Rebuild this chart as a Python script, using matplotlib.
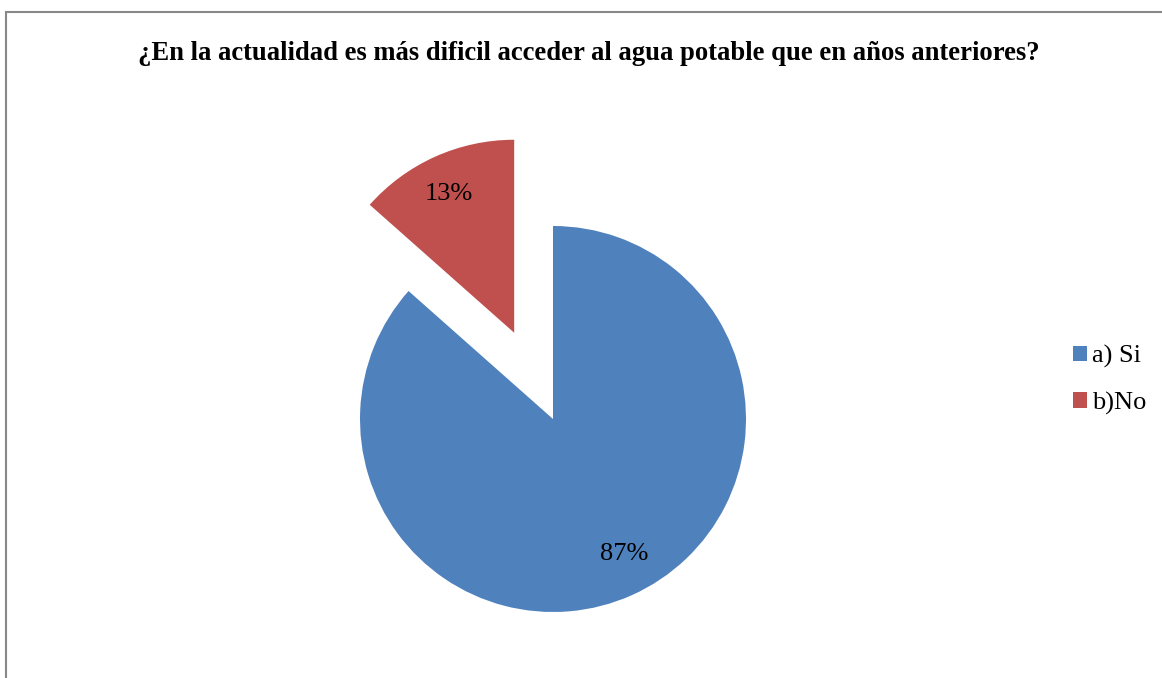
import matplotlib.pyplot as plt
import matplotlib.transforms as mtransforms
from matplotlib.patches import Rectangle

# datos (respuestas de la encuesta)
etiquetas = ['a) Si', 'b)No']
valores = [45, 7]
colores = ['#4F81BD', '#C0504D']
separacion = [0, 0.49]

titulo = '¿En la actualidad es más dificil acceder al agua potable que en años anteriores?'

plt.rcParams['font.family'] = ['Liberation Serif', 'DejaVu Serif']

W, H = 1162, 678
fig = plt.figure(figsize=(W / 100, H / 100), dpi=100)

# marco del gráfico
fig.patches.append(Rectangle((6 / W, -0.1), 1.2, 1 - 12 / H + 0.1, transform=fig.transFigure,
                             fill=False, edgecolor='#888888', linewidth=1.5))

fig.text(589 / W, 1 - 53 / H, titulo, ha='center', va='center', fontsize=19.2, fontweight='bold')

# ejes del pastel: centro (553, 419), radio 193 px
cx, cy, r, half = 553, 419, 193, 300
ax = fig.add_axes([(cx - half) / W, (H - cy - half) / H, 2 * half / W, 2 * half / H])
wedges, textos, autotextos = ax.pie(valores, colors=colores, explode=separacion, startangle=90,
                                    counterclock=False, autopct='%1.0f%%', pctdistance=0.79,
                                    textprops={'fontsize': 19})
# pequeño ajuste de la etiqueta grande, como en el original
autotextos[0].set_transform(ax.transData + mtransforms.ScaledTranslation(0.09, 0.04, fig.dpi_scale_trans))
autotextos[1].set_transform(ax.transData + mtransforms.ScaledTranslation(-0.03, 0.0, fig.dpi_scale_trans))

lim = half / r
ax.set_xlim(-lim, lim)
ax.set_ylim(-lim, lim)
ax.set_aspect('equal')
ax.axis('off')

fig.legend(wedges, etiquetas, loc='center left', bbox_to_anchor=(1073 / W, 1 - 380 / H),
           frameon=False, fontsize=19, handlelength=0.53, handleheight=0.53,
           handletextpad=0.2, labelspacing=0.88, borderpad=0, borderaxespad=0)

fig.savefig('out.png', dpi=100)
